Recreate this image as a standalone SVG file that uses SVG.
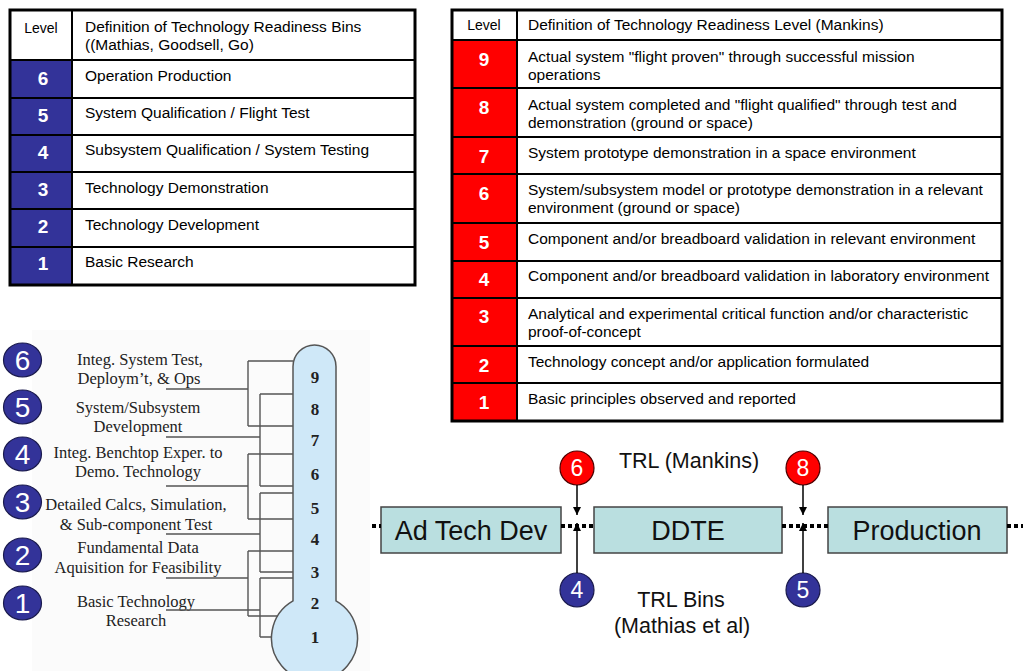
<svg xmlns="http://www.w3.org/2000/svg" width="1023" height="671" viewBox="0 0 1023 671">
  <style>
    .sans { font-family: "Liberation Sans", Arial, sans-serif; }
    .serif { font-family: "Liberation Serif", "Times New Roman", serif; }
    .cell { font-family: "Liberation Sans", Arial, sans-serif; font-size: 15.5px; fill: #000; }
    .hdr { font-family: "Liberation Sans", Arial, sans-serif; font-size: 14px; fill: #000; }
    .lvl { font-family: "Liberation Sans", Arial, sans-serif; font-size: 19px; font-weight: bold; fill: #fff; text-anchor: middle; }
    .grid { stroke: #000; stroke-width: 2; fill: none; }
    .frame { stroke: #000; stroke-width: 3; fill: none; }
    .bracket { stroke: #555; stroke-width: 1.4; fill: none; }
    .tlabel { font-family: "Liberation Serif", "Times New Roman", serif; font-size: 16.5px; fill: #222; text-anchor: middle; }
    .tnum { font-family: "Liberation Serif", "Times New Roman", serif; font-size: 17px; font-weight: bold; fill: #222; text-anchor: middle; }
    .bin { fill: #333399; stroke: #1a1a4d; stroke-width: 1.2; }
    .trl { fill: #ff0000; stroke: #4d0000; stroke-width: 1.2; }
    .binnum { font-family: "Liberation Sans", Arial, sans-serif; font-size: 28px; fill: #fff; text-anchor: middle; }
    .flownum { font-family: "Liberation Sans", Arial, sans-serif; font-size: 23px; fill: #fff; text-anchor: middle; }
    .phase { fill: #badfe0; stroke: #444; stroke-width: 1.5; }
    .phasetxt { font-family: "Liberation Sans", Arial, sans-serif; font-size: 27px; fill: #111; text-anchor: middle; }
    .note { font-family: "Liberation Sans", Arial, sans-serif; font-size: 21.5px; fill: #111; text-anchor: middle; }
    .dots { stroke: #000; stroke-width: 4; stroke-dasharray: 4 3; fill: none; }
    .arrow { stroke: #000; stroke-width: 1.5; fill: none; marker-end: url(#head); }
  </style>
  <defs>
    <marker id="head" viewBox="0 0 10 10" refX="10" refY="5" markerWidth="8" markerHeight="9" markerUnits="userSpaceOnUse" orient="auto">
      <path d="M0,0 L10,5 L0,10 Z" fill="#000"/>
    </marker>
  </defs>

  <rect x="0" y="0" width="1023" height="671" fill="#fff"/>

  <!-- Technology readiness bins table -->
  <g id="bins-table">
    <rect x="10" y="10" width="405" height="275" fill="#fff"/>
    <rect x="10" y="60" width="62" height="225" fill="#333399"/>
    <path class="grid" d="M10,60 H415 M10,98 H415 M10,135 H415 M10,172 H415 M10,209 H415 M10,247 H415 M72,10 V285"/>
    <rect class="frame" x="10" y="10" width="405" height="275"/>
    <text class="hdr" x="41" y="33" text-anchor="middle">Level</text>
    <text class="cell" x="85" y="32">Definition of Technology Readiness Bins</text>
    <text class="cell" x="85" y="50">((Mathias, Goodsell, Go)</text>
    <text class="lvl" x="43" y="85">6</text>
    <text class="cell" x="85" y="81">Operation Production</text>
    <text class="lvl" x="43" y="122">5</text>
    <text class="cell" x="85" y="118">System Qualification / Flight Test</text>
    <text class="lvl" x="43" y="159">4</text>
    <text class="cell" x="85" y="155">Subsystem Qualification / System Testing</text>
    <text class="lvl" x="43" y="196">3</text>
    <text class="cell" x="85" y="193">Technology Demonstration</text>
    <text class="lvl" x="43" y="233">2</text>
    <text class="cell" x="85" y="230">Technology Development</text>
    <text class="lvl" x="43" y="270">1</text>
    <text class="cell" x="85" y="267">Basic Research</text>
  </g>

  <!-- Technology readiness level table -->
  <g id="trl-table">
    <rect x="452" y="10" width="550" height="411" fill="#fff"/>
    <rect x="452" y="40" width="65" height="381" fill="#ff0000"/>
    <path class="grid" d="M452,40 H1002 M452,88 H1002 M452,137 H1002 M452,174 H1002 M452,223 H1002 M452,261 H1002 M452,298 H1002 M452,346 H1002 M452,383 H1002 M517,10 V421"/>
    <rect class="frame" x="452" y="10" width="550" height="411"/>
    <text class="hdr" x="484" y="30" text-anchor="middle">Level</text>
    <text class="cell" x="528" y="30">Definition of Technology Readiness Level (Mankins)</text>
    <text class="lvl" x="484" y="66">9</text>
    <text class="cell" x="528" y="62">Actual system "flight proven" through successful mission</text>
    <text class="cell" x="528" y="80">operations</text>
    <text class="lvl" x="484" y="114">8</text>
    <text class="cell" x="528" y="110">Actual system completed and "flight qualified" through test and</text>
    <text class="cell" x="528" y="128">demonstration (ground or space)</text>
    <text class="lvl" x="484" y="163">7</text>
    <text class="cell" x="528" y="158">System prototype demonstration in a space environment</text>
    <text class="lvl" x="484" y="200">6</text>
    <text class="cell" x="528" y="195">System/subsystem model or prototype demonstration in a relevant</text>
    <text class="cell" x="528" y="213">environment (ground or space)</text>
    <text class="lvl" x="484" y="249">5</text>
    <text class="cell" x="528" y="244">Component and/or breadboard validation in relevant environment</text>
    <text class="lvl" x="484" y="286">4</text>
    <text class="cell" x="528" y="281">Component and/or breadboard validation in laboratory environment</text>
    <text class="lvl" x="484" y="323">3</text>
    <text class="cell" x="528" y="319">Analytical and experimental critical function and/or characteristic</text>
    <text class="cell" x="528" y="337">proof-of-concept</text>
    <text class="lvl" x="484" y="372">2</text>
    <text class="cell" x="528" y="367">Technology concept and/or application formulated</text>
    <text class="lvl" x="484" y="409">1</text>
    <text class="cell" x="528" y="404">Basic principles observed and reported</text>
  </g>

  <!-- Thermometer mapping of bins to levels -->
  <rect x="32" y="330" width="338" height="341" fill="#fbfbfb"/>
  <g id="thermometer">
    <path d="M293,366.5 A21.5,21.5 0 0 1 336,366.5 L336,600.8 A43,43 0 1 1 293,600.8 Z" fill="#cfe8f8" stroke="#555" stroke-width="1.5"/>
    <text class="tnum" x="315" y="383">9</text>
    <text class="tnum" x="315" y="415">8</text>
    <text class="tnum" x="315" y="446">7</text>
    <text class="tnum" x="315" y="480">6</text>
    <text class="tnum" x="315" y="514">5</text>
    <text class="tnum" x="315" y="545">4</text>
    <text class="tnum" x="315" y="578">3</text>
    <text class="tnum" x="315" y="609">2</text>
    <text class="tnum" x="315" y="643">1</text>
  </g>

  <g id="bin-6">
    <ellipse class="bin" cx="22.5" cy="360" rx="19" ry="17"/>
    <text class="binnum" x="22.5" y="370">6</text>
    <text class="tlabel" x="140" y="365">Integ. System Test,</text>
    <text class="tlabel" x="139" y="384">Deploym’t, &amp; Ops</text>
  </g>
  <g id="bin-5">
    <ellipse class="bin" cx="22.5" cy="407" rx="19" ry="17"/>
    <text class="binnum" x="22.5" y="417">5</text>
    <text class="tlabel" x="138" y="413">System/Subsystem</text>
    <text class="tlabel" x="138" y="432">Development</text>
  </g>
  <g id="bin-4">
    <ellipse class="bin" cx="22.5" cy="454" rx="19" ry="17"/>
    <text class="binnum" x="22.5" y="464">4</text>
    <text class="tlabel" x="138" y="458">Integ. Benchtop Exper. to</text>
    <text class="tlabel" x="138" y="477">Demo. Technology</text>
  </g>
  <g id="bin-3">
    <ellipse class="bin" cx="22.5" cy="502" rx="19" ry="17"/>
    <text class="binnum" x="22.5" y="512">3</text>
    <text class="tlabel" x="136" y="510">Detailed Calcs, Simulation,</text>
    <text class="tlabel" x="136" y="530">&amp; Sub-component Test</text>
  </g>
  <g id="bin-2">
    <ellipse class="bin" cx="22.5" cy="555" rx="19" ry="17"/>
    <text class="binnum" x="22.5" y="565">2</text>
    <text class="tlabel" x="138" y="553">Fundamental Data</text>
    <text class="tlabel" x="138" y="573">Aquisition for Feasibility</text>
  </g>
  <g id="bin-1">
    <ellipse class="bin" cx="22.5" cy="603" rx="19" ry="17"/>
    <text class="binnum" x="22.5" y="613">1</text>
    <text class="tlabel" x="136" y="607">Basic Technology</text>
    <text class="tlabel" x="136" y="626">Research</text>
  </g>

  <!-- Flow of program phases -->
  <g id="phase-adtech">
    <rect class="phase" x="381" y="507" width="180" height="46"/>
    <text class="phasetxt" x="471" y="540">Ad Tech Dev</text>
  </g>
  <g id="phase-ddte">
    <rect class="phase" x="594" y="507" width="188" height="46"/>
    <text class="phasetxt" x="688" y="540">DDTE</text>
  </g>
  <g id="phase-production">
    <rect class="phase" x="828" y="507" width="179" height="46"/>
    <text class="phasetxt" x="917" y="540">Production</text>
  </g>
  <g id="trl-6">
    <circle class="trl" cx="577" cy="468" r="17"/>
    <text class="flownum" x="577" y="476">6</text>
  </g>
  <g id="trl-8">
    <circle class="trl" cx="803" cy="468" r="17"/>
    <text class="flownum" x="803" y="476">8</text>
  </g>
  <g id="bin-4-flow">
    <circle class="bin" cx="577" cy="590" r="17"/>
    <text class="flownum" x="577" y="598">4</text>
  </g>
  <g id="bin-5-flow">
    <circle class="bin" cx="803" cy="590" r="17"/>
    <text class="flownum" x="803" y="598">5</text>
  </g>
  <text class="note" x="689" y="468">TRL (Mankins)</text>
  <text class="note" x="681" y="607">TRL Bins</text>
  <text class="note" x="682" y="633">(Mathias et al)</text>

  <g id="connectors">
    <!-- bin brackets onto the thermometer scale -->
    <path class="bracket" d="M166,389 H248 M248,361 V426 M248,361 H293 M248,426 H293"/>
    <path class="bracket" d="M166,437 H260 M260,394 V486 M260,394 H293 M260,486 H293"/>
    <path class="bracket" d="M166,486 H248 M248,454 V519 M248,454 H293 M248,519 H293"/>
    <path class="bracket" d="M166,534 H260 M260,493 V572 M260,493 H293 M260,572 H293"/>
    <path class="bracket" d="M166,578 H248 M248,551 V616 M248,551 H293 M248,616 H278"/>
    <path class="bracket" d="M166,610 H260 M260,578 V637 M260,578 H293 M260,637 H272"/>
    <!-- dotted phase timeline -->
    <path class="dots" d="M372,526 H381 M561,526 H594 M782,526 H828 M1007,526 H1023"/>
    <!-- readiness markers -->
    <line class="arrow" x1="577" y1="485" x2="577" y2="515"/>
    <line class="arrow" x1="577" y1="573" x2="577" y2="523"/>
    <line class="arrow" x1="803" y1="485" x2="803" y2="515"/>
    <line class="arrow" x1="803" y1="573" x2="803" y2="523"/>
  </g>
</svg>
